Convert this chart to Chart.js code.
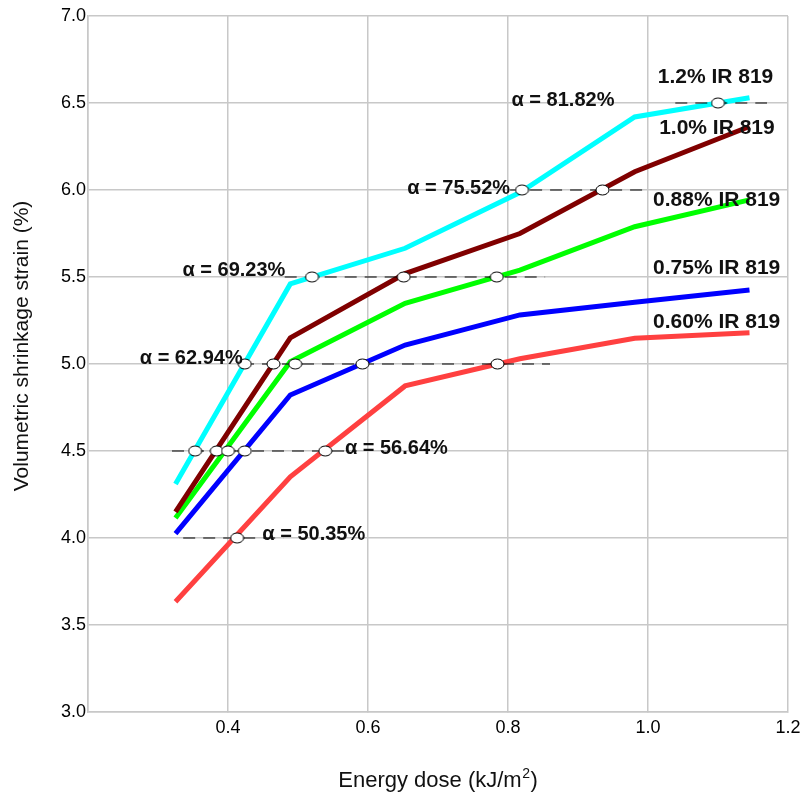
<!DOCTYPE html>
<html>
<head>
<meta charset="utf-8">
<script src="https://cdn.jsdelivr.net/npm/chart.js@4.4.0/dist/chart.umd.min.js"></script>
<style>
  html, body { margin: 0; padding: 0; background: #fff; }
  #wrap { width: 801px; height: 794px; }
</style>
</head>
<body>
<div id="wrap"><canvas id="shrink" width="801" height="794"></canvas></div>
<script>
// energy dose (kJ/m2) where each curve is sampled
var doses = [0.325, 0.489, 0.653, 0.817, 0.981, 1.145];

// volumetric shrinkage strain (%) per IR 819 content
var strain120 = [4.31, 5.46, 5.665, 5.985, 6.42, 6.53];
var strain100 = [4.15, 5.15, 5.52, 5.75, 6.105, 6.365];
var strain088 = [4.115, 5.013, 5.349, 5.54, 5.789, 5.943];
var strain075 = [4.025, 4.822, 5.109, 5.282, 5.355, 5.425];
var strain060 = [3.634, 4.352, 4.874, 5.03, 5.148, 5.18];

var seriesNames = ['1.2% IR 819', '1.0% IR 819', '0.88% IR 819', '0.75% IR 819', '0.60% IR 819'];
var seriesColors = ['#00ffff', '#800000', '#00ff00', '#0000ff', '#ff4040'];

// conversion levels (strain) and where each curve crosses them
var alphaLevels = [4.0, 4.5, 5.0, 5.5, 6.0, 6.5];
var alphaLabels = ['α = 50.35%', 'α = 56.64%', 'α = 62.94%', 'α = 69.23%', 'α = 75.52%', 'α = 81.82%'];
var crossDoses = [
  [0.413],
  [0.353, 0.384, 0.400, 0.424, 0.539],
  [0.424, 0.465, 0.496, 0.592, 0.785],
  [0.520, 0.651, 0.784],
  [0.820, 0.935],
  [1.100]
];
var dashFrom = [0.336, 0.320, 0.420, 0.481, 0.803, 1.039];
var dashTo = [0.479, 0.584, 0.860, 0.853, 0.997, 1.170];

var xTicks = [0.2, 0.4, 0.6, 0.8, 1.0, 1.2];
var yTicks = [3.0, 3.5, 4.0, 4.5, 5.0, 5.5, 6.0, 6.5, 7.0];

// text placement (data coords)
var alphaPos = [
  { x: 0.449, y: 4.02, align: 'left' },
  { x: 0.567, y: 4.517, align: 'left' },
  { x: 0.421, y: 5.033, align: 'right' },
  { x: 0.482, y: 5.54, align: 'right' },
  { x: 0.803, y: 6.01, align: 'right' },
  { x: 0.805, y: 6.517, align: 'left' }
];
var namePos = [
  { x: 1.179, y: 6.651 },
  { x: 1.181, y: 6.354 },
  { x: 1.189, y: 5.943 },
  { x: 1.189, y: 5.55 },
  { x: 1.189, y: 5.243 }
];

var allStrains = [strain120, strain100, strain088, strain075, strain060];
var FONT = '"Liberation Sans", Arial, sans-serif';

function pts(xs, ys) {
  return xs.map(function (v, i) { return { x: v, y: ys[i] }; });
}

// little open ellipse used for the crossing markers
var dot = document.createElement('canvas');
dot.width = 15; dot.height = 12;
(function () {
  var c = dot.getContext('2d');
  c.beginPath();
  c.ellipse(7.5, 6, 6.5, 5, 0, 0, Math.PI * 2);
  c.fillStyle = '#fff';
  c.fill();
  c.lineWidth = 1;
  c.strokeStyle = '#000';
  c.stroke();
})();

var datasets = [];

var crossPts = [];
crossDoses.forEach(function (row, i) {
  row.forEach(function (d) { crossPts.push({ x: d, y: alphaLevels[i] }); });
});
datasets.push({
  label: 'crossings',
  data: crossPts,
  showLine: false,
  pointStyle: dot,
  pointRadius: 6,
  order: 0
});

alphaLevels.forEach(function (lv, i) {
  datasets.push({
    label: 'level ' + lv,
    data: [{ x: dashFrom[i], y: lv }, { x: dashTo[i], y: lv }],
    showLine: true,
    borderColor: '#000',
    borderWidth: 1,
    borderDash: [12, 8],
    pointRadius: 0,
    order: 1
  });
});

allStrains.forEach(function (s, i) {
  datasets.push({
    label: seriesNames[i],
    data: pts(doses, s),
    showLine: true,
    borderColor: seriesColors[i],
    borderWidth: 5,
    pointRadius: 0,
    borderCapStyle: 'butt',
    borderJoinStyle: 'miter',
    order: 2
  });
});

var textPlugin = {
  id: 'texts',
  afterDatasetsDraw: function (chart) {
    var ctx = chart.ctx, xs = chart.scales.x, ys = chart.scales.y;
    ctx.save();
    ctx.fillStyle = '#111';
    ctx.textBaseline = 'middle';
    ctx.font = 'bold 20px ' + FONT;
    alphaLabels.forEach(function (t, i) {
      ctx.textAlign = alphaPos[i].align;
      ctx.fillText(t, xs.getPixelForValue(alphaPos[i].x), ys.getPixelForValue(alphaPos[i].y));
    });
    ctx.font = 'bold 21px ' + FONT;
    ctx.textAlign = 'right';
    seriesNames.forEach(function (t, i) {
      ctx.fillText(t, xs.getPixelForValue(namePos[i].x), ys.getPixelForValue(namePos[i].y));
    });
    ctx.restore();
  },
  afterDraw: function (chart) {
    var ctx = chart.ctx;
    ctx.save();
    ctx.fillStyle = '#111';
    ctx.textBaseline = 'middle';
    // y title
    ctx.translate(22, 346);
    ctx.rotate(-Math.PI / 2);
    ctx.textAlign = 'center';
    ctx.font = '21px ' + FONT;
    ctx.fillText('Volumetric shrinkage strain (%)', 0, 0);
    ctx.restore();

    // x title with a raised 2
    ctx.save();
    ctx.fillStyle = '#111';
    ctx.textBaseline = 'alphabetic';
    ctx.textAlign = 'left';
    var a = 'Energy dose (kJ/m', b = '2', c = ')';
    ctx.font = '22px ' + FONT;
    var wa = ctx.measureText(a).width, wc = ctx.measureText(c).width;
    ctx.font = '14px ' + FONT;
    var wb = ctx.measureText(b).width;
    var x0 = 438 - (wa + wb + wc + 1) / 2, base = 787;
    ctx.font = '22px ' + FONT;
    ctx.fillText(a, x0, base);
    ctx.font = '14px ' + FONT;
    ctx.fillText(b, x0 + wa + 0.5, base - 9);
    ctx.font = '22px ' + FONT;
    ctx.fillText(c, x0 + wa + wb + 1, base);
    ctx.restore();
  }
};

var tickFont = { family: FONT, size: 18 };

new Chart(document.getElementById('shrink'), {
  type: 'scatter',
  data: { datasets: datasets },
  options: {
    responsive: false,
    animation: false,
    layout: { padding: { top: 16, right: 13, left: 0, bottom: 0 } },
    plugins: { legend: { display: false }, tooltip: { enabled: false } },
    scales: {
      x: {
        type: 'linear',
        min: 0.2,
        max: 1.2,
        afterBuildTicks: function (axis) {
          axis.ticks = xTicks.map(function (v) { return { value: v }; });
        },
        afterFit: function (axis) {
          axis.height = 82;
          axis.paddingLeft = 0;
          axis.paddingRight = 0;
        },
        grid: { color: '#c8c8c8', lineWidth: 1.5, tickLength: 0 },
        border: { color: '#c8c8c8', width: 1.5 },
        ticks: {
          font: tickFont,
          color: '#000',
          padding: 5,
          callback: function (v) { return v === 0.2 ? '' : v.toFixed(1); }
        }
      },
      y: {
        type: 'linear',
        min: 3.0,
        max: 7.0,
        afterBuildTicks: function (axis) {
          axis.ticks = yTicks.map(function (v) { return { value: v }; });
        },
        afterFit: function (axis) {
          axis.width = 88;
          axis.paddingTop = 0;
          axis.paddingBottom = 0;
        },
        grid: { color: '#c8c8c8', lineWidth: 1.5, tickLength: 0 },
        border: { color: '#c8c8c8', width: 1.5 },
        ticks: {
          font: tickFont,
          color: '#000',
          padding: 2,
          callback: function (v) { return v.toFixed(1); }
        }
      }
    }
  },
  plugins: [textPlugin]
});
</script>
</body>
</html>
